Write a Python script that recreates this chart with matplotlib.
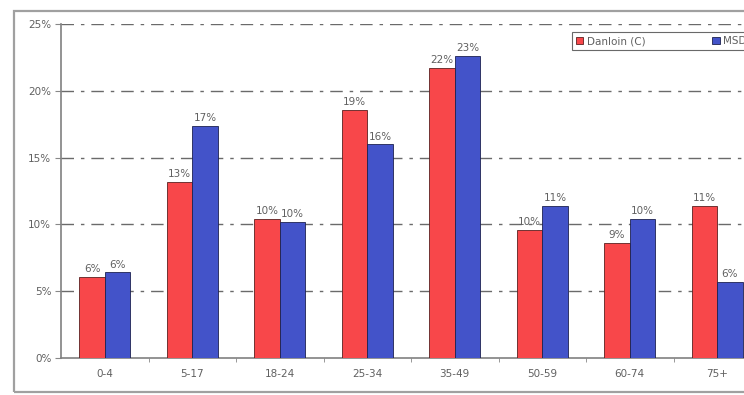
import numpy as np
import matplotlib
matplotlib.use("Agg")
import matplotlib.pyplot as plt
from matplotlib.patches import Rectangle
from matplotlib.ticker import PercentFormatter, FixedLocator


AGE_GROUPS = ["0-4", "5-17", "18-24", "25-34", "35-49", "50-59", "60-74", "75+"]
DANLOIN = [0.061, 0.132, 0.104, 0.186, 0.217, 0.096, 0.086, 0.114]
MSD = [0.064, 0.174, 0.102, 0.160, 0.226, 0.114, 0.104, 0.057]
SERIES_NAMES = ["Danloin (C)", "MSD"]

RED = "#f8474a"
BLUE = "#4353c9"
TEXT = "#606060"

fig = plt.figure(figsize=(7.44, 3.95), dpi=100)

# plot area runs past the right edge of the image on purpose
ax = fig.add_axes([61 / 744, 37 / 395, 700 / 744, 334 / 395])

# grey outer frame around the chart
fig.patches.append(Rectangle((14 / 744, 3 / 395), 1.2, 381 / 395,
                             transform=fig.transFigure, fill=False,
                             edgecolor="#a0a0a0", linewidth=1.6))

x = np.arange(len(AGE_GROUPS))
w = 0.29

bars_c = ax.bar(x - w / 2, DANLOIN, w, color=RED, edgecolor="#5a2020",
                linewidth=0.6, label=SERIES_NAMES[0], zorder=3)
bars_m = ax.bar(x + w / 2, MSD, w, color=BLUE, edgecolor="#1d2250",
                linewidth=0.6, label=SERIES_NAMES[1], zorder=3)

for bars in (bars_c, bars_m):
    for b in bars:
        ax.text(b.get_x() + b.get_width() / 2, b.get_height() + 0.002,
                f"{b.get_height():.0%}", ha="center", va="bottom",
                fontsize=7.5, color=TEXT, zorder=4)

ax.set_xlim(-0.5, len(AGE_GROUPS) - 0.5)
ax.set_ylim(0, 0.25)
ax.yaxis.set_major_formatter(PercentFormatter(1.0, decimals=0))
ax.set_yticks(np.arange(0, 0.26, 0.05))

for y in np.arange(0.05, 0.26, 0.05):
    ax.axhline(y, color="#6a6a6a", linewidth=1.0, dashes=(9, 5, 2.5, 5), zorder=1)

ax.set_xticks(x)
ax.set_xticklabels(AGE_GROUPS)
ax.xaxis.set_minor_locator(FixedLocator(x[:-1] + 0.5))
ax.tick_params(axis="x", which="major", length=0, pad=8, labelsize=7.5, labelcolor=TEXT)
ax.tick_params(axis="x", which="minor", length=3, color="#888888")
ax.tick_params(axis="y", length=4, color="#888888", labelsize=7.5, labelcolor=TEXT, pad=3)

for side in ("top", "right"):
    ax.spines[side].set_visible(False)
ax.spines["left"].set_color("#808080")
ax.spines["bottom"].set_color("#808080")
ax.spines["left"].set_linewidth(1.2)
ax.spines["bottom"].set_linewidth(1.2)

leg = ax.legend(loc="upper left", bbox_to_anchor=((572 - 61) / 700, (358 - 32) / 334),
                ncol=2, fontsize=7.5, frameon=True, fancybox=False,
                handlelength=0.7, handleheight=0.7, handletextpad=0.35,
                columnspacing=6.4, borderpad=0.4, borderaxespad=0)
leg.get_frame().set_edgecolor("#444444")
leg.get_frame().set_linewidth(0.8)
for t in leg.get_texts():
    t.set_color(TEXT)

fig.savefig("out.png", dpi=100)
